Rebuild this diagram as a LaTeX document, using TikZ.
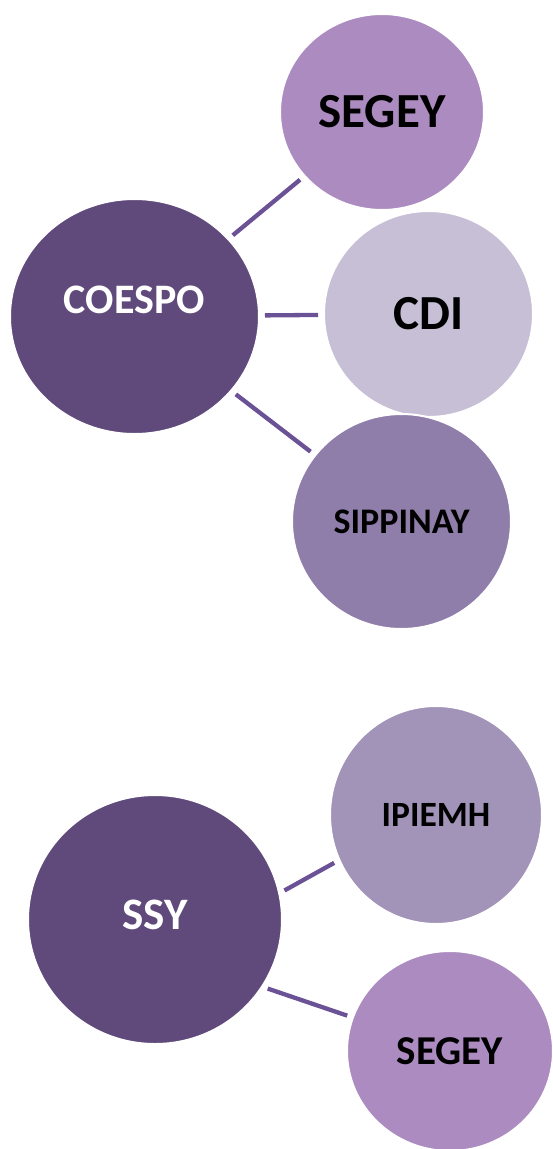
\documentclass[tikz,border=0pt]{standalone}
\usepackage{fontspec}
\setmainfont{Carlito}
\usepackage{tikz}
\usetikzlibrary{shapes.geometric}
\definecolor{hubpurple}{HTML}{604A7B}
\definecolor{segeypurple}{HTML}{AC8BC0}
\definecolor{cdililac}{HTML}{C7BFD6}
\definecolor{sippinaypurple}{HTML}{8F7DAA}
\definecolor{ipiemhpurple}{HTML}{A293B9}
\definecolor{linkpurple}{HTML}{6B5296}

\begin{document}
\begin{tikzpicture}[
      x=1pt, y=-1pt,
      bubble/.style={ellipse, draw=white, line width=2pt, inner sep=0pt,
                     text=black, font=\bfseries},
      hub/.style={bubble, fill=hubpurple, text=white},
      link/.style={line width=4.3pt, linkpurple, shorten <=5pt, shorten >=5pt}
    ]
      \useasboundingbox (0,0) rectangle (552,1149);
      % first group
      \node[bubble, fill=segeypurple, minimum width=204pt, minimum height=196pt,
            font=\bfseries\fontsize{49}{50}\selectfont] (segeyA) at (382,112) {SEGEY};
      \node[bubble, fill=cdililac, minimum width=209pt, minimum height=206pt,
            font=\bfseries\fontsize{49}{50}\selectfont] (cdi) at (428.5,314) {CDI};
      \node[bubble, fill=sippinaypurple, minimum width=219pt, minimum height=215pt,
            font=\bfseries\fontsize{36}{38}\selectfont] (sippinay) at (401.5,521.5) {SIPPINAY};
      \node[hub, minimum width=249pt, minimum height=235pt, text depth=33pt,
            font=\bfseries\fontsize{42}{44}\selectfont] (coespo) at (134.5,316.5) {COESPO};
      \draw[link] (coespo) -- (segeyA);
      \draw[link] (coespo) -- (cdi);
      \draw[link] (coespo) -- (sippinay);
      % second group
      \node[bubble, fill=ipiemhpurple, minimum width=212pt, minimum height=218pt,
            font=\bfseries\fontsize{35.5}{37}\selectfont] (ipiemh) at (436,815) {IPIEMH};
      \node[bubble, fill=segeypurple, minimum width=206pt, minimum height=200pt,
            font=\bfseries\fontsize{41}{43}\selectfont] (segeyB) at (450,1051) {SEGEY};
      \node[hub, minimum width=254pt, minimum height=249pt, text depth=9pt,
            font=\bfseries\fontsize{45}{47}\selectfont] (ssy) at (155,919.5) {SSY};
      \draw[link] (ssy.12.7) -- (ipiemh.205.7);
      \draw[link] (ssy.-32.9) -- (segeyB.161.4);
    \end{tikzpicture}
\end{document}
